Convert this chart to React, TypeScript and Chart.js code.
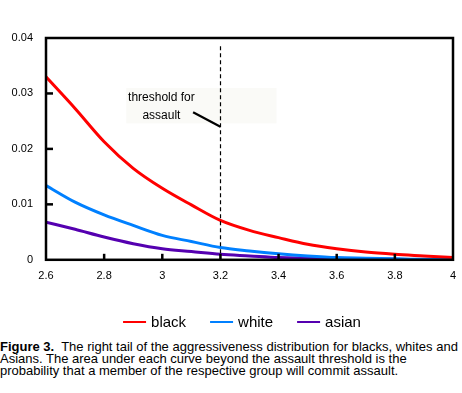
import React, { useEffect, useRef } from "react";
import { Chart, registerables } from "chart.js";

Chart.register(...registerables);

const xValues = [2.6, 2.7, 2.8, 2.9, 3.0, 3.1, 3.2, 3.3, 3.4, 3.5, 3.6, 3.7, 3.8, 3.9, 4.0];
const blackValues = [0.033, 0.0273, 0.0213, 0.0165, 0.0129, 0.0099, 0.0071, 0.0053, 0.004, 0.0028, 0.002, 0.0014, 0.001, 0.0007, 0.0004];
const whiteValues = [0.0134, 0.0104, 0.0081, 0.0062, 0.0044, 0.0033, 0.0022, 0.0016, 0.0011, 0.0007, 0.0004, 0.0003, 0.0002, 0.0001, 0.0001];
const asianValues = [0.0068, 0.0055, 0.0041, 0.0029, 0.002, 0.0015, 0.001, 0.0007, 0.0004, 0.0003, 0.0002, 0.0001, 0.0001, 0.0, 0.0];

const seriesLabels = ["black", "white", "asian"];
const seriesColors = ["#ff0000", "#0080ff", "#5500b0"];

const xTickValues = [2.6, 2.8, 3.0, 3.2, 3.4, 3.6, 3.8, 4.0];
const yTickValues = [0, 0.01, 0.02, 0.03, 0.04];

const threshold = 3.2;
const thresholdTop = 0.0385;
const noteLines = ["threshold for", "assault"];

const FONT = "'Liberation Sans', Arial, sans-serif";

const decorPlugin = {
  id: "decor",
  beforeDatasetsDraw(chart: any) {
    const { ctx, scales } = chart;
    const x = scales.x;
    const y = scales.y;
    ctx.save();
    ctx.fillStyle = "rgb(250,250,247)";
    const bx1 = x.getPixelForValue(2.876);
    const bx2 = x.getPixelForValue(3.393);
    const by1 = y.getPixelForValue(0.031);
    const by2 = y.getPixelForValue(0.0246);
    ctx.fillRect(bx1, by1, bx2 - bx1, by2 - by1);
    ctx.restore();
  },
  afterDatasetsDraw(chart: any) {
    const { ctx, chartArea, scales } = chart;
    const x = scales.x;
    const y = scales.y;
    ctx.save();
    // threshold dashed line
    const tx = Math.round(x.getPixelForValue(threshold)) + 0.5;
    ctx.strokeStyle = "#000";
    ctx.lineWidth = 1.2;
    ctx.setLineDash([4, 3]);
    ctx.beginPath();
    ctx.moveTo(tx, y.getPixelForValue(thresholdTop));
    ctx.lineTo(tx, chartArea.bottom);
    ctx.stroke();
    ctx.setLineDash([]);
    // note text
    ctx.fillStyle = "#000";
    ctx.font = `12px ${FONT}`;
    ctx.textAlign = "center";
    ctx.textBaseline = "middle";
    const cx = x.getPixelForValue(2.997);
    ctx.fillText(noteLines[0], cx, y.getPixelForValue(0.0293));
    ctx.fillText(noteLines[1], cx, y.getPixelForValue(0.026));
    // pointer
    ctx.lineWidth = 2.2;
    ctx.beginPath();
    ctx.moveTo(x.getPixelForValue(3.106), y.getPixelForValue(0.0266));
    ctx.lineTo(x.getPixelForValue(3.2), y.getPixelForValue(0.024));
    ctx.stroke();
    // frame
    ctx.lineWidth = 2.5;
    ctx.strokeRect(chartArea.left, chartArea.top, chartArea.right - chartArea.left, chartArea.bottom - chartArea.top);
    // inward ticks
    yTickValues.forEach((v, i) => {
      if (i === 0 || i === yTickValues.length - 1) return;
      const py = y.getPixelForValue(v);
      ctx.beginPath();
      ctx.moveTo(chartArea.left, py);
      ctx.lineTo(chartArea.left + 7, py);
      ctx.stroke();
    });
    xTickValues.forEach((v, i) => {
      if (i === 0 || i === xTickValues.length - 1) return;
      const px = x.getPixelForValue(v);
      ctx.beginPath();
      ctx.moveTo(px, chartArea.bottom);
      ctx.lineTo(px, chartArea.bottom - 6);
      ctx.stroke();
    });
    // legend
    ctx.font = `15px ${FONT}`;
    ctx.textAlign = "left";
    ctx.textBaseline = "middle";
    const lineLen = 23;
    const gap = 5;
    const itemGap = 24;
    const widths = chart.data.datasets.map((d: any) => ctx.measureText(d.label).width);
    const total = widths.reduce((a: number, w: number) => a + lineLen + gap + w, 0) + itemGap * (widths.length - 1);
    let lx = 242 - total / 2;
    const ly = 322;
    chart.data.datasets.forEach((d: any, i: number) => {
      ctx.strokeStyle = d.borderColor;
      ctx.lineWidth = 2;
      ctx.beginPath();
      ctx.moveTo(lx, ly);
      ctx.lineTo(lx + lineLen, ly);
      ctx.stroke();
      ctx.fillStyle = "#000";
      ctx.fillText(d.label, lx + lineLen + gap, ly + 1);
      lx += lineLen + gap + widths[i] + itemGap;
    });
    ctx.restore();
  },
};

function fmt(v: number) {
  return String(Math.round(v * 1000) / 1000);
}

export default function App() {
  const ref = useRef<HTMLCanvasElement | null>(null);
  useEffect(() => {
    if (!ref.current) return;
    const series = [blackValues, whiteValues, asianValues];
    const chart = new Chart(ref.current, {
      type: "line",
      data: {
        datasets: series.map((vals, i) => ({
          label: seriesLabels[i],
          data: xValues.map((xv, j) => ({ x: xv, y: vals[j] })),
          borderColor: seriesColors[i],
          backgroundColor: seriesColors[i],
          borderWidth: 3,
          pointRadius: 0,
          cubicInterpolationMode: "monotone" as const,
          fill: false,
        })),
      },
      options: {
        animation: false,
        responsive: false,
        devicePixelRatio: 1,
        layout: { padding: { top: 38, right: 9, left: 0, bottom: 50 } },
        plugins: { legend: { display: false }, tooltip: { enabled: false } },
        scales: {
          x: {
            type: "linear",
            min: 2.6,
            max: 4,
            afterBuildTicks: (s: any) => {
              s.ticks = xTickValues.map((v) => ({ value: v }));
            },
            grid: { display: false },
            border: { display: false },
            ticks: {
              color: "#000",
              font: { family: FONT, size: 11 },
              padding: 2,
              maxRotation: 0,
              autoSkip: false,
              callback: (v: any) => fmt(Number(v)),
            },
          },
          y: {
            min: 0,
            max: 0.04,
            afterBuildTicks: (s: any) => {
              s.ticks = yTickValues.map((v) => ({ value: v }));
            },
            afterFit: (s: any) => {
              s.width = 46;
            },
            grid: { display: false },
            border: { display: false },
            ticks: {
              color: "#000",
              font: { family: FONT, size: 11 },
              padding: 5,
              callback: (v: any) => fmt(Number(v)),
            },
          },
        },
      },
      plugins: [decorPlugin],
    });
    return () => chart.destroy();
  }, []);

  return (
    <div style={{ position: "absolute", left: 0, top: 0, width: 462, height: 393, background: "#fff" }}>
      <canvas ref={ref} width={462} height={335} style={{ position: "absolute", left: 0, top: 0, width: 462, height: 335 }} />
      <div
        style={{
          position: "absolute",
          left: 0,
          top: 341,
          width: 462,
          fontFamily: FONT,
          fontSize: 13,
          lineHeight: "12px",
          whiteSpace: "nowrap",
          color: "#000",
        }}
      >
        <b>Figure 3.</b>&nbsp; The right tail of the aggressiveness distribution for blacks, whites and
        <br />
        Asians. The area under each curve beyond the assault threshold is the
        <br />
        probability that a member of the respective group will commit assault.
      </div>
    </div>
  );
}
